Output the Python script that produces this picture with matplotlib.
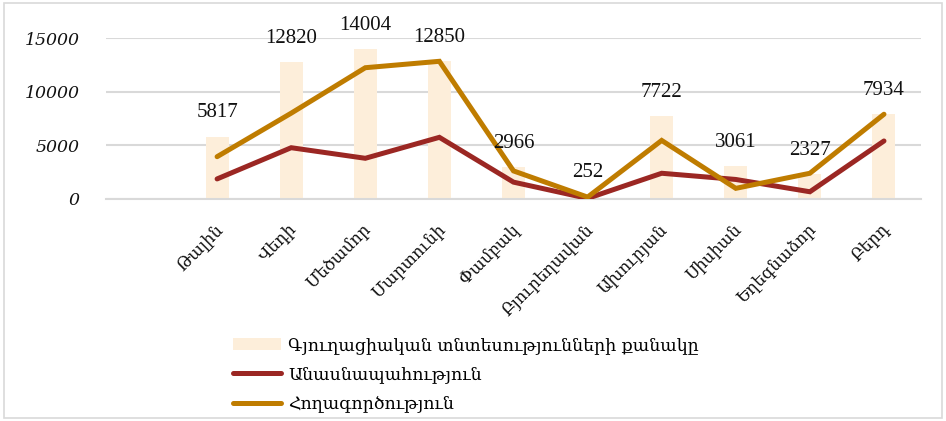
import matplotlib.pyplot as plt
from matplotlib.patches import Rectangle
from matplotlib.transforms import ScaledTranslation

# համայնքներ
regions = ["Թալին", "Վեդի", "Մեծամոր", "Մարտունի", "Փամբակ",
           "Բյուրեղավան", "Ախուրյան", "Սիսիան", "Եղեգնաձոր", "Բերդ"]
farms = [5817, 12820, 14004, 12850, 2966, 252, 7722, 3061, 2327, 7934]
livestock = [1850, 4770, 3780, 5740, 1550, 30, 2380, 1800, 650, 5400]
crops = [3930, 8000, 12250, 12850, 2600, 150, 5450, 970, 2380, 7900]

yticks = [0, 5000, 10000, 15000]

bar_color = "#FDEEDA"
red = "#9B2723"
gold = "#BF7C00"
grid_color = "#D9D9D9"

serif = ["Liberation Serif", "DejaVu Serif"]
arm = ["DejaVu Serif"]

fig = plt.figure(figsize=(9.46, 4.21), dpi=100)
ax = fig.add_axes([0.112, 0.528, 0.8616, 0.381])

x = list(range(len(regions)))
ax.bar(x, farms, width=0.31, color=bar_color, zorder=2,
       label="Գյուղացիական տնտեսությունների քանակը")
ax.plot(x, livestock, color=red, lw=3.6, solid_capstyle="round",
        solid_joinstyle="miter", zorder=3, label="Անասնապահություն")
ax.plot(x, crops, color=gold, lw=3.6, solid_capstyle="round",
        solid_joinstyle="miter", zorder=4, label="Հողագործություն")

for xi, v in zip(x, farms):
    ax.annotate(str(v), (xi, v), xytext=(0, 17), textcoords="offset points",
                ha="center", va="center", fontsize=15, family=serif,
                color="#111111", clip_on=False, zorder=5)

ax.set_xlim(-1.5, 9.5)
ax.set_ylim(0, 15000)
ax.set_yticks(yticks)
ax.set_yticklabels([str(t) for t in yticks])
for lab in ax.get_yticklabels():
    lab.set_fontfamily("DejaVu Serif")
    lab.set_fontstyle("italic")
    lab.set_fontsize(12.5)
    lab.set_color("#111111")
ax.yaxis.grid(True, color=grid_color, lw=1.5, zorder=0)
ax.set_axisbelow(True)
for s in ["top", "right", "left"]:
    ax.spines[s].set_visible(False)
ax.spines["bottom"].set_color(grid_color)
ax.spines["bottom"].set_linewidth(1.5)
ax.tick_params(axis="both", length=0)
ax.tick_params(axis="y", pad=19)

ax.set_xticks(x)
ax.set_xticklabels(regions, rotation=45, ha="right", rotation_mode="anchor",
                   fontsize=12, family=arm, color="#111111")
for lab in ax.get_xticklabels():
    lab.set_transform(lab.get_transform() +
                      ScaledTranslation(-0.03, -0.17, fig.dpi_scale_trans))

handles, labels = ax.get_legend_handles_labels()
order = [2, 0, 1]
leg = fig.legend([handles[i] for i in order], [labels[i] for i in order],
                 loc="upper left", bbox_to_anchor=(0.237, 0.22), frameon=False,
                 prop={"family": arm, "size": 12.5}, handlelength=2.75,
                 handletextpad=0.45, labelspacing=0.72, borderpad=0)

fig.patches.append(Rectangle((0.004, 0.006), 0.992, 0.988, transform=fig.transFigure,
                             fill=False, edgecolor="#D9D9D9", lw=1.2))

fig.savefig("out.png", dpi=100)
